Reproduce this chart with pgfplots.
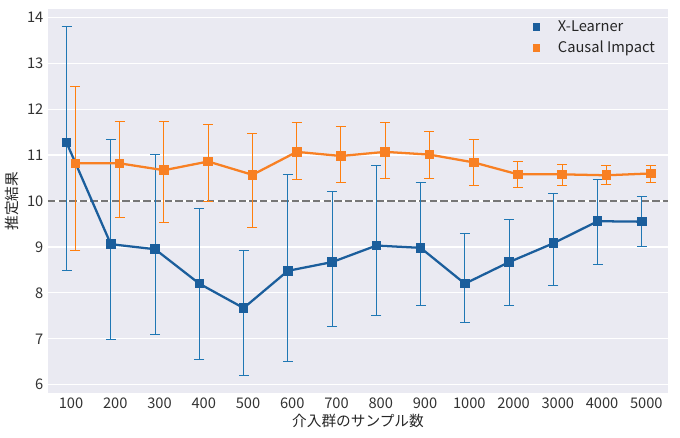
\documentclass[border=0pt]{standalone}
\usepackage{fontspec}
\setmainfont{Noto Sans CJK JP}
\usepackage{pgfplots}
\pgfplotsset{compat=1.18}
\definecolor{bgc}{HTML}{EAEAF2}
\definecolor{bline}{HTML}{1B5E9C}
\definecolor{berr}{HTML}{1F77B4}
\definecolor{oline}{HTML}{F88023}
\definecolor{oerr}{HTML}{FF7F0E}
\definecolor{refc}{HTML}{777777}
\begin{document}
\begin{tikzpicture}
\begin{axis}[
  scale only axis,
  width=465pt, height=288pt,
  xmin=-0.52, xmax=13.49,
  ymin=5.82, ymax=14.18,
  axis background/.style={fill=bgc},
  axis line style={draw=none},
  major tick length=0pt,
  xtick={0,...,13},
  xticklabels={100,200,300,400,500,600,700,800,900,1000,2000,3000,4000,5000},
  ytick={6,7,8,9,10,11,12,13,14},
  ymajorgrids,
  grid style={white, line width=0.9pt},
  /pgf/number format/assume math mode=true,
  ticklabel style={font=\fontsize{11}{13}\selectfont, text=black!80},
  label style={font=\fontsize{11}{13}\selectfont, text=black!85},
  xlabel={介入群のサンプル数},
  ylabel={推定結果},
  xlabel style={yshift=3pt},
  ylabel style={yshift=-1pt},
  legend style={draw=none, fill=none, at={(0.99,0.985)}, anchor=north east,
    font=\fontsize{11}{13}\selectfont, text=black!85, row sep=2pt,
    cells={anchor=west},
    /tikz/every odd column/.append style={column sep=12pt}},
  legend cell align=left,
  clip=false,
]
\addplot[refc, line width=1.5pt, dash pattern=on 5.55pt off 2.4pt, forget plot] coordinates {(-0.52,10) (13.49,10)};

% X-Learner
\addplot[bline, line width=1.7pt, mark=square*, mark size=2.75pt, mark options={solid, fill=bline}, forget plot,
  error bars/.cd, y dir=both, y explicit,
  error bar style={berr, line width=0.75pt},
  error mark options={rotate=90, mark size=3.75pt, line width=0.75pt, berr}]
  table[x=x, y=y, y error plus=ep, y error minus=em] {
x y ep em
-0.1 11.27 2.53 2.79
0.9 9.06 2.27 2.08
1.9 8.95 2.07 1.86
2.9 8.20 1.63 1.66
3.9 7.67 1.26 1.47
4.9 8.48 2.09 1.98
5.9 8.67 1.53 1.40
6.9 9.03 1.74 1.53
7.9 8.98 1.42 1.26
8.9 8.20 1.10 0.85
9.9 8.67 0.93 0.95
10.9 9.08 1.09 0.93
11.9 9.56 0.90 0.95
12.9 9.55 0.54 0.53
};

% Causal Impact
\addplot[oline, line width=1.7pt, mark=square*, mark size=2.75pt, mark options={solid, fill=oline}, forget plot,
  error bars/.cd, y dir=both, y explicit,
  error bar style={oerr, line width=0.75pt},
  error mark options={rotate=90, mark size=3.75pt, line width=0.75pt, oerr}]
  table[x=x, y=y, y error plus=ep, y error minus=em] {
x y ep em
0.1 10.82 1.68 1.89
1.1 10.82 0.90 1.17
2.1 10.67 1.07 1.13
3.1 10.86 0.81 0.88
4.1 10.57 0.91 1.14
5.1 11.07 0.63 0.61
6.1 10.98 0.65 0.57
7.1 11.07 0.63 0.59
8.1 11.01 0.51 0.53
9.1 10.84 0.49 0.51
10.1 10.58 0.29 0.29
11.1 10.58 0.22 0.25
12.1 10.56 0.22 0.21
13.1 10.60 0.18 0.19
};
\addlegendimage{only marks, mark=square*, mark size=2.4pt, bline}
\addlegendentry{X-Learner}
\addlegendimage{only marks, mark=square*, mark size=2.4pt, oline}
\addlegendentry{Causal Impact}
\end{axis}
\pgfresetboundingbox
\path ([shift={(-36pt,-33pt)}]current axis.south west) rectangle ([shift={(474pt,294.75pt)}]current axis.south west);
\end{tikzpicture}
\end{document}
